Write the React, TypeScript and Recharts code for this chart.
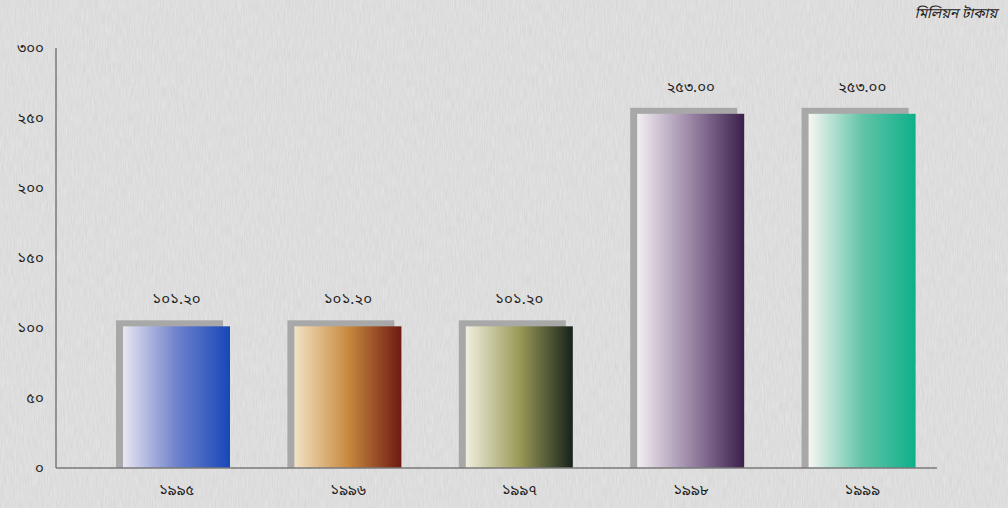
import React from 'react';
import { BarChart, Bar, XAxis, YAxis, LabelList, Cell } from 'recharts';

const years = ['১৯৯৫', '১৯৯৬', '১৯৯৭', '১৯৯৮', '১৯৯৯'];
const values = [101.2, 101.2, 101.2, 253.0, 253.0];
const yTicks = [0, 50, 100, 150, 200, 250, 300];
const unitLabel = 'মিলিয়ন টাকায়';

// left (light) -> mid -> right (dark) stops for each bar
const GRADIENTS = [
  ['#e8e6f0', '#6f82cc', '#1747b8'],
  ['#f2e2c4', '#c88a3e', '#6e1a12'],
  ['#f0eede', '#9a9a58', '#15221a'],
  ['#f2eef2', '#9b86a6', '#3a1f4c'],
  ['#f6f6f2', '#62c4a8', '#0db08a'],
];

const BN = ['০', '১', '২', '৩', '৪', '৫', '৬', '৭', '৮', '৯'];
const toBn = (s: string) => s.replace(/[0-9]/g, (d) => BN[Number(d)]);

const data = years.map((year, i) => ({ year, value: values[i] }));

const FONT = '"Noto Sans Bengali", "Lohit Bengali", "Noto Serif Bengali", sans-serif';

const ShadowBar = (props: any) => {
  const { x, y, width, height, index } = props;
  return (
    <g>
      <rect x={x - 7} y={y - 6} width={width} height={height + 6} fill="#a8a8a8" />
      <rect x={x} y={y} width={width} height={height} fill={`url(#barGrad${index})`} />
    </g>
  );
};

const App: React.FC = () => {
  return (
    <div style={{ position: 'absolute', left: 0, top: 0, width: 1008, height: 508, background: '#d9d9d9', overflow: 'hidden' }}>
      <svg width={1008} height={508} style={{ position: 'absolute', left: 0, top: 0 }}>
        <defs>
          <filter id="paper">
            <feTurbulence type="fractalNoise" baseFrequency="0.9 0.08" numOctaves={2} seed={3} />
            <feColorMatrix type="matrix" values="0 0 0 0 1  0 0 0 0 1  0 0 0 0 1  0 0 0 -1.2 1.1" />
          </filter>
        </defs>
        <rect width={1008} height={508} fill="#d6d6d6" />
        <rect width={1008} height={508} filter="url(#paper)" opacity={0.35} />
      </svg>
      <div style={{ position: 'absolute', right: 11, top: 5, fontFamily: FONT, fontStyle: 'italic', fontSize: 14, color: '#222' }}>
        {unitLabel}
      </div>
      <div style={{ position: 'absolute', left: 0, top: 0 }}>
        <BarChart width={1008} height={508} data={data} margin={{ top: 48, right: 71, left: 0, bottom: 10 }} barSize={107}>
          <defs>
            {GRADIENTS.map((g, i) => (
              <linearGradient key={i} id={`barGrad${i}`} x1="0" y1="0" x2="1" y2="0">
                <stop offset="0%" stopColor={g[0]} />
                <stop offset="50%" stopColor={g[1]} />
                <stop offset="100%" stopColor={g[2]} />
              </linearGradient>
            ))}
          </defs>
          <XAxis
            dataKey="year"
            height={30}
            tickLine={false}
            axisLine={{ stroke: '#7a7a7a', strokeWidth: 1.5 }}
            tick={{ fontSize: 15, fill: '#222', fontFamily: FONT }}
            tickMargin={10}
            padding={{ left: 35, right: -11 }}
          />
          <YAxis
            domain={[0, 300]}
            ticks={yTicks}
            tickFormatter={(v) => toBn(String(v))}
            tickLine={false}
            axisLine={{ stroke: '#7a7a7a', strokeWidth: 1.5 }}
            tick={{ fontSize: 15, fill: '#222', fontFamily: FONT }}
            tickMargin={6}
            width={56}
          />
          <Bar dataKey="value" shape={ShadowBar} isAnimationActive={false}>
            {data.map((d, i) => (
              <Cell key={d.year} fill={`url(#barGrad${i})`} />
            ))}
            <LabelList
              dataKey="value"
              position="top"
              offset={22}
              formatter={(v: any) => toBn(Number(v).toFixed(2))}
              style={{ fontSize: 15, fill: '#222', fontFamily: FONT }}
            />
          </Bar>
        </BarChart>
      </div>
    </div>
  );
};

export default App;
